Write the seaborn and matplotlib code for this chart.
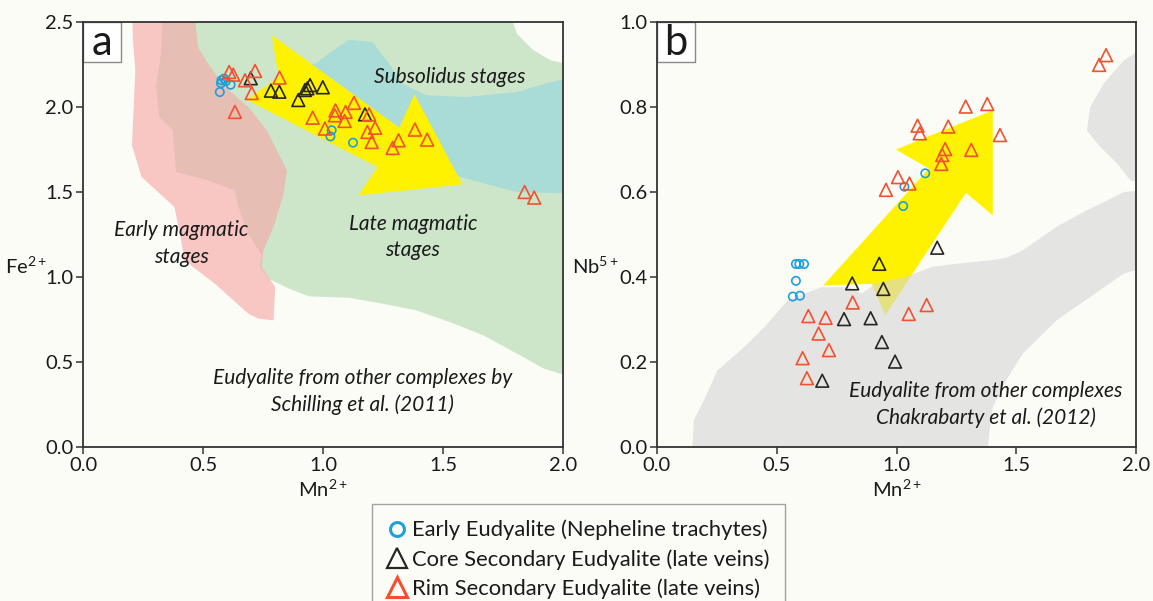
import numpy as np
import matplotlib
matplotlib.use("Agg")
import matplotlib.pyplot as plt
import seaborn as sns
from matplotlib.patches import Rectangle
from matplotlib.lines import Line2D

# ---------------- data: panel a (Mn vs Fe) ----------------
a_early_mn = [0.577, 0.588, 0.595, 0.570, 0.615, 0.575, 1.036, 1.031, 1.125]
a_early_fe = [2.157, 2.167, 2.151, 2.088, 2.131, 2.140, 1.863, 1.827, 1.790]
a_core_mn = [0.699, 0.783, 0.818, 0.897, 0.946, 0.935, 0.925, 0.999, 1.175]
a_core_fe = [2.169, 2.096, 2.090, 2.041, 2.129, 2.110, 2.100, 2.116, 1.957]
a_rim_mn = [0.609, 0.626, 0.675, 0.717, 0.703, 0.633, 0.819, 0.957, 1.052, 1.050,
            1.094, 1.129, 1.090, 1.192, 1.008, 1.185, 1.217, 1.203, 1.290, 1.315,
            1.383, 1.434, 1.840, 1.880]
a_rim_fe = [2.206, 2.190, 2.157, 2.212, 2.082, 1.971, 2.173, 1.937, 1.980, 1.951,
            1.971, 2.024, 1.918, 1.957, 1.873, 1.853, 1.878, 1.794, 1.759, 1.804,
            1.867, 1.808, 1.500, 1.467]

# fields of panel a (Mn, Fe)
early_field_mn = [0.205, 0.208, 0.218, 0.211, 0.204, 0.244, 0.381, 0.409, 0.423, 0.549,
                  0.689, 0.731, 0.794, 0.801, 0.745, 0.752, 0.794, 0.836, 0.850, 0.815,
                  0.766, 0.689, 0.591, 0.521, 0.479, 0.465]
early_field_fe = [2.55, 2.392, 2.216, 2.0, 1.775, 1.588, 1.412, 1.216, 1.098, 0.961,
                  0.784, 0.755, 0.745, 0.941, 1.059, 1.157, 1.294, 1.490, 1.627, 1.725,
                  1.863, 2.0, 2.118, 2.255, 2.353, 2.55]
late_field_mn = [0.332, 0.325, 0.304, 0.318, 0.374, 0.388, 0.521, 0.633, 0.647, 0.689,
                 0.731, 0.745, 0.738, 0.773, 0.843, 0.941, 1.108, 1.248, 1.388, 1.528,
                 1.668, 1.808, 1.920, 2.012, 2.05, 2.05, 2.012, 1.948, 1.878, 1.808, 1.780]
late_field_fe = [2.55, 2.314, 2.118, 1.941, 1.863, 1.618, 1.569, 1.510, 1.412, 1.255,
                 1.157, 1.127, 1.059, 0.990, 0.941, 0.886, 0.878, 0.843, 0.804, 0.735,
                 0.657, 0.549, 0.461, 0.422, 0.42, 2.25, 2.255, 2.275, 2.333, 2.431, 2.55]
subsolidus_mn = [0.815, 0.969, 1.052, 1.108, 1.206, 1.276, 1.332, 1.430, 1.598, 1.808,
                 1.948, 2.05, 2.05, 1.808, 1.570, 1.388, 1.248, 1.038, 0.899, 0.829]
subsolidus_fe = [2.235, 2.255, 2.343, 2.396, 2.382, 2.255, 2.137, 2.069, 2.059, 2.088,
                 2.147, 2.176, 1.490, 1.500, 1.588, 1.725, 1.863, 2.0, 2.098, 2.176]
arrow_a_mn = [0.787, 1.318, 1.381, 1.581, 1.148, 1.227, 0.682, 0.815]
arrow_a_fe = [2.422, 1.878, 2.075, 1.545, 1.480, 1.647, 2.043, 2.176]

# ---------------- data: panel b (Mn vs Nb) ----------------
b_early_mn = [1.120, 1.033, 1.028, 0.580, 0.594, 0.614, 0.580, 0.567, 0.597]
b_early_nb = [0.644, 0.6125, 0.567, 0.4306, 0.4306, 0.4306, 0.391, 0.354, 0.356]
b_core_mn = [1.170, 0.928, 0.815, 0.945, 0.781, 0.892, 0.939, 0.994, 0.690]
b_core_nb = [0.469, 0.431, 0.385, 0.372, 0.301, 0.303, 0.247, 0.201, 0.156]
b_rim_mn = [1.289, 1.379, 1.088, 1.097, 1.216, 1.432, 1.203, 1.191, 1.187, 1.312,
            1.006, 1.054, 0.956, 0.817, 1.126, 0.632, 0.704, 0.675, 0.718, 0.608,
            0.626, 1.051, 1.846, 1.875]
b_rim_nb = [0.801, 0.807, 0.756, 0.738, 0.754, 0.734, 0.701, 0.687, 0.666, 0.699,
            0.635, 0.620, 0.605, 0.340, 0.334, 0.308, 0.304, 0.267, 0.228, 0.209,
            0.162, 0.313, 0.899, 0.922]

other_field_mn = [0.147, 0.154, 0.196, 0.252, 0.364, 0.448, 0.546, 0.686, 0.799, 0.855,
                  0.911, 1.037, 1.149, 1.248, 1.388, 1.458, 1.528, 1.668, 1.781, 1.879,
                  1.949, 2.05, 2.05, 1.949, 1.809, 1.668, 1.528, 1.458, 1.402, 1.388, 1.381]
other_field_nb = [-0.01, 0.063, 0.110, 0.180, 0.235, 0.282, 0.345, 0.376, 0.376, 0.361,
                  0.384, 0.400, 0.424, 0.431, 0.439, 0.445, 0.463, 0.518, 0.553, 0.580,
                  0.600, 0.605, 0.424, 0.408, 0.353, 0.298, 0.220, 0.157, 0.094, 0.039, -0.01]
other_field2_mn = [2.05, 1.949, 1.865, 1.809, 1.795, 1.851, 1.921, 1.977, 2.05]
other_field2_nb = [0.945, 0.910, 0.855, 0.800, 0.745, 0.706, 0.667, 0.627, 0.620]
arrow_b_mn = [0.694, 1.135, 0.998, 1.402, 1.402, 1.290, 1.058, 0.953, 0.897]
arrow_b_nb = [0.380, 0.655, 0.700, 0.792, 0.545, 0.598, 0.400, 0.310, 0.384]

x_ticks = [0.0, 0.5, 1.0, 1.5, 2.0]
ya_ticks = [0.0, 0.5, 1.0, 1.5, 2.0, 2.5]
yb_ticks = [0.0, 0.2, 0.4, 0.6, 0.8, 1.0]
legend_labels = ["Early Eudyalite (Nepheline trachytes)",
                 "Core Secondary Eudyalite (late veins)",
                 "Rim Secondary Eudyalite (late veins)"]

# ---------------- style ----------------
sns.set_theme(style="white")
plt.rcParams['font.family'] = ['Lato', 'DejaVu Sans']
plt.rcParams['mathtext.fontset'] = 'custom'
plt.rcParams['mathtext.rm'] = 'Lato'
plt.rcParams['mathtext.it'] = 'Lato:italic'

BG = '#fcfcf7'
C_BLUE = '#1ea0dc'
C_BLACK = '#262626'
C_RED = '#f4502f'
C_YELLOW = '#fff200'
C_GREEN = '#cde6ca'
C_TEAL = '#a9dcd6'
C_PINK = (246/255, 170/255, 168/255)
C_GRAY = (212/255, 212/255, 215/255)
TXT = '#1a1a1a'
FS_TICK = 14.5
FS_NOTE = 15

fig = plt.figure(figsize=(11.53, 6.01), dpi=100, facecolor=BG)
W, H = 1153, 601
axa = fig.add_axes([83/W, 1-447/H, 480/W, 425/H])
axb = fig.add_axes([657/W, 1-447/H, 479/W, 425/H])


def scatter_groups(ax, em, ey, cm, cy, rm, ry):
    sns.scatterplot(x=em, y=ey, ax=ax, marker='o', s=36, color=C_BLUE,
                    facecolors='none', edgecolor=C_BLUE, linewidth=1.2, zorder=6, legend=False)
    sns.scatterplot(x=cm, y=cy, ax=ax, marker='^', s=85, color=C_BLACK,
                    facecolors='none', edgecolor=C_BLACK, linewidth=1.2, zorder=6, legend=False)
    sns.scatterplot(x=rm, y=ry, ax=ax, marker='^', s=85, color=C_RED,
                    facecolors='none', edgecolor=C_RED, linewidth=1.2, zorder=6, legend=False)


def style_axes(ax, yticks, letter):
    ax.set_facecolor(BG)
    ax.set_xlim(0, 2)
    ax.set_ylim(yticks[0], yticks[-1])
    ax.set_xticks(x_ticks)
    ax.set_xticklabels([f"{t:.1f}" for t in x_ticks])
    ax.set_yticks(yticks)
    ax.set_yticklabels([f"{t:.1f}" for t in yticks])
    for s in ax.spines.values():
        s.set_color('#333333')
        s.set_linewidth(1.3)
        s.set_zorder(10)
    ax.tick_params(axis='both', which='both', direction='out', length=5, width=1.1,
                   color='#333333', labelsize=FS_TICK, labelcolor=TXT, pad=2,
                   bottom=True, left=True, top=False, right=False)
    ax.add_patch(Rectangle((0, 1-40/425), 38/480, 40/425, transform=ax.transAxes,
                           facecolor='white', edgecolor='#8a8a8a', lw=1.0, zorder=9))
    ax.text(19/480, 1-21/425, letter, transform=ax.transAxes, ha='center', va='center',
            fontsize=30, color=TXT, zorder=10)


# ---------------- panel a ----------------
axa.fill(late_field_mn, late_field_fe, color=C_GREEN, lw=0, zorder=1)
axa.fill(subsolidus_mn, subsolidus_fe, color=C_TEAL, lw=0, zorder=2)
axa.fill(early_field_mn, early_field_fe, color=C_PINK, alpha=0.66, lw=0, zorder=3)
axa.fill(arrow_a_mn, arrow_a_fe, color=C_YELLOW, lw=0, zorder=4)
scatter_groups(axa, a_early_mn, a_early_fe, a_core_mn, a_core_fe, a_rim_mn, a_rim_fe)
style_axes(axa, ya_ticks, 'a')
axa.text(1.528, 2.176, "Subsolidus stages", style='italic', fontsize=FS_NOTE, color=TXT,
         ha='center', va='center', zorder=8)
axa.text(1.374, 1.235, "Late magmatic\nstages", style='italic', fontsize=FS_NOTE, color=TXT,
         ha='center', va='center', linespacing=1.4, zorder=8)
axa.text(0.409, 1.196, "Early magmatic\nstages", style='italic', fontsize=FS_NOTE, color=TXT,
         ha='center', va='center', linespacing=1.4, zorder=8)
axa.text(1.164, 0.328, "Eudyalite from other complexes by\nSchilling et al. (2011)",
         style='italic', fontsize=FS_NOTE, color=TXT, ha='center', va='center',
         linespacing=1.4, zorder=8)
axa.set_xlabel(r"Mn$^{\mathregular{2+}}$", fontsize=FS_TICK, color=TXT)
axa.xaxis.set_label_coords(0.5, -0.075)
axa.set_ylabel(r"Fe$^{\mathregular{2+}}$", fontsize=FS_TICK, color=TXT, rotation=0,
               ha='center', va='center')
axa.yaxis.set_label_coords(-0.118, 0.425)

# ---------------- panel b ----------------
axb.fill(arrow_b_mn, arrow_b_nb, color=C_YELLOW, lw=0, zorder=2)
axb.fill(other_field_mn, other_field_nb, color=C_GRAY, alpha=0.6, lw=0, zorder=3)
axb.fill(other_field2_mn, other_field2_nb, color=C_GRAY, alpha=0.6, lw=0, zorder=3)
scatter_groups(axb, b_early_mn, b_early_nb, b_core_mn, b_core_nb, b_rim_mn, b_rim_nb)
style_axes(axb, yb_ticks, 'b')
axb.text(1.374, 0.10, "Eudyalite from other complexes\nChakrabarty et al. (2012)",
         style='italic', fontsize=FS_NOTE, color=TXT, ha='center', va='center',
         linespacing=1.4, zorder=8)
axb.set_xlabel(r"Mn$^{\mathregular{2+}}$", fontsize=FS_TICK, color=TXT)
axb.xaxis.set_label_coords(0.5, -0.075)
axb.set_ylabel(r"Nb$^{\mathregular{5+}}$", fontsize=FS_TICK, color=TXT, rotation=0,
               ha='center', va='center')
axb.yaxis.set_label_coords(-0.128, 0.425)

# ---------------- legend ----------------
handles = [
    Line2D([], [], marker='o', ls='', mfc='none', mec=C_BLUE, mew=2.2, ms=10),
    Line2D([], [], marker='^', ls='', mfc='none', mec=C_BLACK, mew=1.6, ms=14),
    Line2D([], [], marker='^', ls='', mfc='none', mec=C_RED, mew=2.2, ms=14),
]
leg = fig.legend(handles, legend_labels, loc='upper left',
                 bbox_to_anchor=(372/W, 1-504/H), fontsize=15.8, frameon=True,
                 fancybox=False, edgecolor='#8a8a8a', facecolor=BG,
                 handlelength=0.8, handletextpad=0.3, labelspacing=0.4,
                 borderpad=0.72, borderaxespad=0)
leg.get_frame().set_linewidth(1.0)
for t in leg.get_texts():
    t.set_color(TXT)

fig.savefig("out.png", dpi=100, facecolor=BG)
